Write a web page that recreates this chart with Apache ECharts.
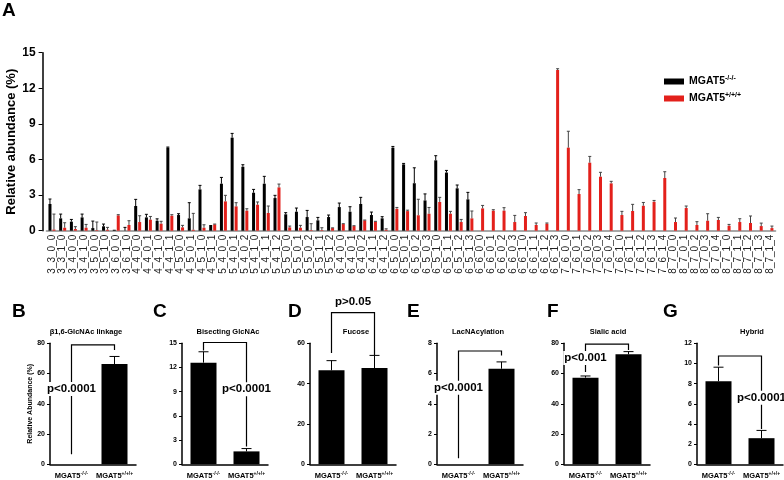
<!DOCTYPE html>
<html><head><meta charset="utf-8">
<script src="https://cdn.jsdelivr.net/npm/echarts@6.0.0/dist/echarts.min.js"></script>
<style>html,body{margin:0;padding:0;background:#fff}#c{width:784px;height:480px}</style>
</head><body><div id="c"></div>
<script>
const categories = ['3_3_0_0','3_3_1_0','3_4_0_0','3_4_1_0','3_5_0_0','3_5_1_0','3_6_0_0','3_6_1_0',
 '4_4_0_0','4_4_0_1','4_4_1_0','4_4_1_1','4_5_0_0','4_5_0_1','4_5_1_0','4_5_1_1',
 '5_4_0_0','5_4_0_1','5_4_0_2','5_4_1_0','5_4_1_1','5_4_1_2','5_5_0_0','5_5_0_1','5_5_0_2','5_5_1_1','5_5_1_2',
 '6_4_0_0','6_4_0_1','6_4_0_2','6_4_1_1','6_4_1_2','6_5_0_0','6_5_0_1','6_5_0_2','6_5_0_3','6_5_1_0','6_5_1_1','6_5_1_2','6_5_1_3',
 '6_6_0_0','6_6_0_1','6_6_0_2','6_6_0_3','6_6_1_0','6_6_1_1','6_6_1_2','6_6_1_3',
 '7_6_0_0','7_6_0_1','7_6_0_2','7_6_0_3','7_6_0_4','7_6_1_0','7_6_1_1','7_6_1_2','7_6_1_3','7_6_1_4',
 '8_7_0_0','8_7_0_1','8_7_0_2','8_7_0_3','8_7_0_4','8_7_1_0','8_7_1_1','8_7_1_2','8_7_1_3','8_7_1_4'];
const koValues = [2.25,1.04,0.76,1.12,0.22,0.37,0.08,0,
 2.08,1.12,0.84,7.0,1.32,1.04,3.48,0.48,
 3.96,7.84,5.39,3.2,3.96,2.75,1.38,1.6,1.15,0.87,1.15,
 1.99,1.6,2.25,1.32,1.04,7.0,5.59,4.0,2.55,5.93,4.9,3.57,2.64,
 0,0,0,0,0,0,0,0, 0,0,0,0,0,0,0,0,0,0, 0,0,0,0,0,0,0,0,0,0];
const koErrors = [0.42,0.36,0.19,0.28,0.59,0.19,0,0.28,
 0.56,0.26,0.16,0.05,0.11,1.32,0.34,0,
 0.53,0.36,0.17,0.28,0.62,0.23,0.14,0.31,0.56,0.25,0.17,
 0.34,0.42,0.56,0.25,0.14,0.1,0.08,1.3,0.55,0.39,0.18,0.28,0.59,
 0,0,0,0,0,0,0,0, 0,0,0,0,0,0,0,0,0,0, 0,0,0,0,0,0,0,0,0,0];
const wtValues = [0.1,0.25,0.14,0.25,0.05,0.08,1.29,0.48,
 0.73,0.93,0.59,1.26,0.28,0.08,0.25,0.53,
 2.47,2.05,1.69,2.19,1.49,3.65,0.28,0.25,0.05,0.05,0.22,
 0.56,0.39,0.87,0.76,0.08,1.85,1.65,1.3,1.43,2.42,1.43,0.73,1.04,
 1.88,1.69,1.69,0.73,1.24,0.48,0.59,13.54,
 7.0,3.09,5.73,4.55,3.99,1.32,1.66,2.1,2.44,4.44,
 0.73,1.91,0.48,0.84,0.9,0.42,0.73,0.65,0.39,0.22];
const wtErrors = [1.3,0.42,0.2,0.28,0.68,0.2,0.06,0.36,
 0.53,0.27,0.2,0.09,0.17,1.38,0.25,0.03,
 0.51,0.31,0.16,0.23,0.59,0.28,0.11,0.2,0.54,0.2,0.02,
 0.03,0.03,0.03,0.03,0.08,0.11,0.08,1.35,0.53,0.39,0.2,0.22,0.62,
 0.25,0.08,0.25,0.56,0.28,0.17,0.06,0.11,
 1.38,0.37,0.53,0.37,0.17,0.31,0.56,0.28,0.11,0.53,
 0.34,0.17,0.28,0.59,0.22,0.11,0.28,0.59,0.25,0.17];
const seriesNames = ['MGAT5-/-/-','MGAT5+/+/+'];

const panelLetters = ['B','C','D','E','F','G'];
const panelTitles = ['\u03b21,6-GlcNAc linkage','Bisecting GlcNAc','Fucose','LacNAcylation','Sialic acid','Hybrid'];
const panelGroups = ['MGAT5-/-/-','MGAT5+/+/+'];
const panelValues = [[0,66.3],[12.6,1.6],[46.6,47.7],[0,6.32],[57.3,72.7],[8.24,2.59]];
const panelErrors = [[0,5.0],[1.35,0.35],[4.8,6.3],[0,0.45],[1.1,1.8],[1.39,0.77]];
const panelMax = [80,15,60,8,80,12];
const panelInterval = [20,3,20,2,20,2];
const pLabels = ['p<0.0001','p<0.0001','p>0.05','p<0.0001','p<0.001','p<0.0001'];
const bracketTop = [78.9,15.1,75.2,7.49,79.5,10.74];
const bracketLeftEnd = [6.6,14.1,55.2,0.4,61,9.8];
const bracketRightEnd = [75.6,2.2,54.2,7.2,75.6,3.5];
const pLabelLeg = [0,1,0.5,0,0,1];
const pLabelValue = [49.8,9.3,80.5,5.06,70.3,6.6];

// layout
const FONT = 'Liberation Sans, Arial, sans-serif';
const gridLefts = [50,182,310,437,564,697];
const titleX = [86,228,356,478,608,752];
const letterX = [12,153,288,407,547,663];
const PW = 86, PTOP = 343.3, PH = 121;
const BW = 3, GAP = 1;

const chart = echarts.init(document.getElementById('c'), null, {renderer:'canvas'});

function errRender(offset, color, capHalf){
  return function(params, api){
    const i = api.value(0), v = api.value(1), e = api.value(2);
    if (!(e > 0)) return null;
    const b = api.coord([i, v]); const t = api.coord([i, v + e]);
    const x = b[0] + offset;
    return {type:'group', children:[
      {type:'line', shape:{x1:x, y1:b[1], x2:x, y2:t[1]}, style:{stroke:color, lineWidth:1}},
      {type:'line', shape:{x1:x-capHalf, y1:t[1], x2:x+capHalf, y2:t[1]}, style:{stroke:color, lineWidth:1}}
    ]};
  };
}

const grids = [{left:46.6, top:52.7, width:728.7, height:178, outerBoundsMode:'none', containLabel:false}];
const xAxes = [{gridIndex:0, type:'category', data:categories,
  axisLine:{lineStyle:{color:'#a8a8a8', width:2}}, axisTick:{show:false},
  axisLabel:{interval:0, rotate:90, fontSize:10, fontFamily:FONT, color:'#222', margin:4}}];
const yAxes = [{gridIndex:0, type:'value', min:0, max:15, interval:3, offset:4,
  name:'Relative abundance (%)', nameLocation:'middle', nameGap:25, nameMoveOverlap:false,
  nameTextStyle:{fontSize:13, fontWeight:'bold', fontFamily:FONT, color:'#000'},
  axisLine:{show:true, lineStyle:{color:'#000', width:1.5}},
  axisTick:{show:true, length:4, lineStyle:{color:'#000'}},
  axisLabel:{fontSize:12, fontWeight:'bold', fontFamily:FONT, color:'#000', margin:7},
  splitLine:{show:false}}];

const series = [
  {name:seriesNames[0], type:'bar', xAxisIndex:0, yAxisIndex:0, data:koValues, barWidth:BW, barGap:'33%', itemStyle:{color:'#000'}},
  {name:seriesNames[1], type:'bar', xAxisIndex:0, yAxisIndex:0, data:wtValues, barWidth:BW, barGap:'33%', itemStyle:{color:'#e3201b'}},
  {name:'errKO', type:'custom', xAxisIndex:0, yAxisIndex:0, z:3,
   data:koValues.map((v,i)=>[i,v,koErrors[i]]), renderItem:errRender(-(BW+GAP)/2, '#000', 1.5)},
  {name:'errWT', type:'custom', xAxisIndex:0, yAxisIndex:0, z:3,
   data:wtValues.map((v,i)=>[i,v,wtErrors[i]]), renderItem:errRender((BW+GAP)/2, '#444', 1.5)}
];

const graphics = [{type:'text', x:2, y:1, style:{text:'A', font:'bold 19px '+FONT, fill:'#000'}}];

panelTitles.forEach((t, k) => {
  const gi = k + 1;
  grids.push({left:gridLefts[k], top:PTOP, width:PW, height:PH, outerBoundsMode:'none', containLabel:false});
  xAxes.push({gridIndex:gi, type:'category', data:panelGroups,
    axisLine:{lineStyle:{color:'#000', width:1.5}}, axisTick:{show:false},
    axisLabel:{interval:0, margin:7, formatter:(v)=>'{b|MGAT5}{s|'+v.slice(5)+'}',
      rich:{b:{fontSize:7.5, fontWeight:'bold', fontFamily:FONT, color:'#000', lineHeight:10},
            s:{fontSize:5, fontWeight:'bold', fontFamily:FONT, color:'#000', verticalAlign:'top', lineHeight:10}}}});
  const ya = {gridIndex:gi, type:'value', min:0, max:panelMax[k], interval:panelInterval[k],
    axisLine:{show:true, lineStyle:{color:'#000', width:1.5}},
    axisTick:{show:true, length:3, lineStyle:{color:'#000'}},
    axisLabel:{fontSize:7, fontWeight:'bold', fontFamily:FONT, color:'#000', margin:5},
    splitLine:{show:false}};
  if (k === 0) {
    ya.name = 'Relative Abundance (%)'; ya.nameLocation = 'middle'; ya.nameGap = 16; ya.nameMoveOverlap = false;
    ya.nameTextStyle = {fontSize:7, fontWeight:'bold', fontFamily:FONT, color:'#000'};
  }
  yAxes.push(ya);
  series.push({name:'panel'+k, type:'bar', xAxisIndex:gi, yAxisIndex:gi, data:panelValues[k], barWidth:26, itemStyle:{color:'#000'}});
  series.push({name:'perr'+k, type:'custom', xAxisIndex:gi, yAxisIndex:gi, z:3,
    data:panelValues[k].map((v,i)=>[i,v,panelErrors[k][i]]), renderItem:errRender(0,'#000',5)});
  series.push({name:'br'+k, type:'custom', xAxisIndex:gi, yAxisIndex:gi, z:4, clip:false,
    data:[[0, bracketTop[k]]],
    renderItem:function(params, api){
      const L = api.coord([0, bracketTop[k]]), R = api.coord([1, bracketTop[k]]);
      const Lb = api.coord([0, bracketLeftEnd[k]]), Rb = api.coord([1, bracketRightEnd[k]]);
      const leg = pLabelLeg[k];
      const tx = leg === 0.5 ? (L[0]+R[0])/2 : (leg === 0 ? L[0] : R[0]);
      const ty = api.coord([0, pLabelValue[k]])[1];
      return {type:'group', children:[
        {type:'polyline', shape:{points:[Lb, L, R, Rb]}, style:{stroke:'#000', lineWidth:1.2, fill:null}},
        {type:'text', x:tx, y:ty, style:{text:pLabels[k], font:'bold 11.5px '+FONT, fill:'#000',
          align:'center', verticalAlign:'middle', backgroundColor:'#fff', padding:[1,1]}}
      ]};
    }});
  graphics.push({type:'text', x:letterX[k], y:302, style:{text:panelLetters[k], font:'bold 19px '+FONT, fill:'#000'}});
  graphics.push({type:'text', x:titleX[k], y:332, style:{text:t, font:'bold 7.5px '+FONT, fill:'#000', align:'center', verticalAlign:'middle'}});
});

chart.setOption({
  animation:false,
  backgroundColor:'#fff',
  grid:grids, xAxis:xAxes, yAxis:yAxes, series:series, graphic:graphics,
  legend:{data:seriesNames, orient:'vertical', left:664, top:75, padding:0, itemWidth:20, itemHeight:6, itemGap:5,
    icon:'rect', selectedMode:false,
    formatter:(n)=>'{b|MGAT5}{s|'+n.slice(5)+'}',
    textStyle:{rich:{b:{fontSize:10.5, fontWeight:'bold', fontFamily:FONT, color:'#000', lineHeight:13},
                     s:{fontSize:7, fontWeight:'bold', fontFamily:FONT, color:'#000', verticalAlign:'top', lineHeight:13}}}}
});
</script></body></html>
